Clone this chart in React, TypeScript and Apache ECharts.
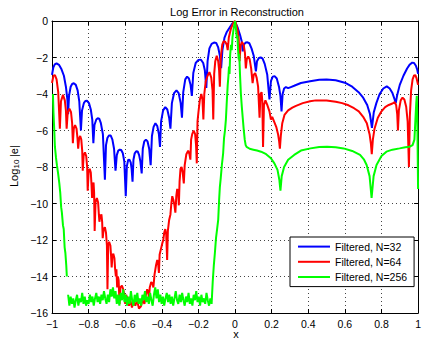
import React, { useEffect, useRef } from "react";
import * as echarts from "echarts";

const FONT = "'Liberation Sans', Arial, Helvetica, sans-serif";

const seriesNames = ["Filtered, N=32", "Filtered, N=64", "Filtered, N=256"];
const seriesColors = ["#0000ff", "#ff0000", "#00ff00"];
const xTicks = [-1, -0.8, -0.6, -0.4, -0.2, 0, 0.2, 0.4, 0.6, 0.8, 1];
const yTicks = [-16, -14, -12, -10, -8, -6, -4, -2, 0];

const blueN32: any[] = [
  [-1.0, -2.95], [-0.993, -2.55], [-0.985, -2.38], [-0.975, -2.32], [-0.962, -2.4], [-0.948, -2.65],
  [-0.935, -3.0], [-0.924, -3.6], [-0.916, -4.3], [-0.912, -5.1], [-0.907, -4.1], [-0.898, -3.6],
  [-0.89, -3.45], [-0.881, -3.41], [-0.87, -3.5], [-0.86, -3.8], [-0.851, -4.4], [-0.842, -6.0],
  [-0.836, -4.9], [-0.826, -4.5], [-0.818, -4.38], [-0.809, -4.37], [-0.798, -4.5], [-0.788, -4.85],
  [-0.78, -5.4], [-0.774, -6.7], [-0.768, -5.7], [-0.758, -5.4], [-0.75, -5.33], [-0.742, -5.35],
  [-0.733, -5.6], [-0.722, -6.2], [-0.711, -8.7], [-0.705, -6.8], [-0.697, -6.4], [-0.688, -6.27],
  [-0.679, -6.28], [-0.67, -6.5], [-0.661, -7.0], [-0.653, -8.2], [-0.646, -7.35], [-0.638, -7.1],
  [-0.63, -7.05], [-0.622, -7.07], [-0.613, -7.25], [-0.605, -7.7], [-0.597, -9.6], [-0.591, -7.95],
  [-0.584, -7.62], [-0.577, -7.6], [-0.57, -7.75], [-0.565, -8.1], [-0.56, -8.8], [-0.555, -7.6],
  [-0.548, -7.25], [-0.54, -7.14], [-0.532, -7.15], [-0.524, -7.35], [-0.517, -7.7], [-0.51, -8.35],
  [-0.504, -7.0], [-0.496, -6.6], [-0.487, -6.5], [-0.478, -6.6], [-0.469, -7.0], [-0.461, -7.9],
  [-0.454, -6.3], [-0.445, -5.8], [-0.435, -5.6], [-0.425, -5.75], [-0.416, -6.2], [-0.41, -6.9],
  [-0.404, -5.5], [-0.393, -4.9], [-0.381, -4.72], [-0.37, -4.85], [-0.36, -5.3], [-0.353, -5.9],
  [-0.345, -4.5], [-0.333, -3.95], [-0.32, -3.8], [-0.308, -3.95], [-0.297, -4.5], [-0.29, -5.3],
  [-0.283, -3.9], [-0.272, -3.2], [-0.262, -3.05], [-0.252, -3.15], [-0.243, -3.5], [-0.236, -4.1],
  [-0.228, -2.85], [-0.215, -2.3], [-0.2, -2.13], [-0.186, -2.12], [-0.174, -2.3], [-0.165, -2.7],
  [-0.157, -3.67], [-0.15, -2.2], [-0.14, -1.5], [-0.128, -1.25], [-0.115, -1.18], [-0.103, -1.2],
  [-0.092, -1.45], [-0.083, -1.9], [-0.076, -2.58], [-0.069, -1.6], [-0.058, -0.93], [-0.045, -0.6],
  [-0.031, -0.38], [-0.016, -0.15], [0.0, -0.03], [0.015, -0.38], [0.027, -0.75], [0.036, -1.1],
  [0.042, -1.66], [0.048, -1.3], [0.058, -1.18], [0.068, -1.17], [0.078, -1.22], [0.09, -1.5],
  [0.102, -1.9], [0.114, -2.76], [0.12, -2.2], [0.13, -2.03], [0.14, -2.0], [0.15, -2.05],
  [0.162, -2.35], [0.176, -2.95], [0.188, -4.3], [0.196, -3.3], [0.206, -3.05], [0.216, -3.02],
  [0.228, -3.15], [0.24, -3.6], [0.248, -4.1], [0.254, -4.95], [0.26, -4.0], [0.268, -3.7],
  [0.278, -3.62], [0.29, -3.68], [0.305, -3.62], [0.323, -3.55], [0.36, -3.4], [0.41, -3.3],
  [0.46, -3.22], [0.5, -3.2], [0.55, -3.25], [0.6, -3.38], [0.64, -3.6], [0.675, -3.9],
  [0.7, -4.2], [0.722, -4.6], [0.737, -5.1], [0.748, -5.85], [0.758, -5.0], [0.772, -4.5],
  [0.79, -4.0], [0.81, -3.7], [0.829, -3.58], [0.845, -3.7], [0.86, -3.95], [0.872, -4.3],
  [0.878, -4.5], [0.885, -4.1], [0.9, -3.5], [0.92, -3.0], [0.94, -2.6], [0.955, -2.38],
  [0.968, -2.28], [0.978, -2.3], [0.988, -2.45], [0.995, -2.65], [1.0, -2.9],
];

const redN64: any[] = [
  [-1.0, -3.4], [-0.992, -3.0], [-0.984, -2.96], [-0.975, -3.2], [-0.966, -3.9], [-0.957, -5.9],
  [-0.951, -4.4], [-0.94, -4.05], [-0.93, -4.35], [-0.924, -4.9], [-0.92, -5.9],
  [-0.914, -5.0], [-0.905, -4.8], [-0.896, -5.0], [-0.89, -5.6], [-0.886, -6.7],
  [-0.881, -5.9], [-0.874, -5.7], [-0.866, -5.9], [-0.861, -6.4], [-0.857, -7.0],
  [-0.852, -6.45], [-0.846, -6.3], [-0.84, -6.5], [-0.835, -7.1], [-0.832, -8.2],
  [-0.827, -7.35], [-0.82, -7.2], [-0.813, -7.4], [-0.808, -8.0], [-0.805, -9.3],
  [-0.8, -8.3], [-0.794, -8.1], [-0.788, -8.3], [-0.784, -9.0], [-0.781, -9.7],
  [-0.777, -9.0], [-0.773, -8.85], [-0.77, -9.4], [-0.767, -11.5],
  [-0.762, -9.9], [-0.755, -9.7], [-0.748, -9.95], [-0.744, -10.6], [-0.741, -11.0],
  [-0.737, -10.7], [-0.73, -10.6], [-0.726, -11.0], [-0.723, -11.9],
  [-0.718, -11.4], [-0.711, -11.3], [-0.705, -11.6], [-0.7, -12.3], [-0.697, -14.7],
  [-0.693, -12.3], [-0.688, -12.1], [-0.681, -12.3], [-0.677, -12.9], [-0.674, -13.5],
  [-0.67, -12.9], [-0.665, -12.75], [-0.659, -13.0], [-0.655, -13.6], [-0.651, -14.0],
  [-0.648, -13.6], [-0.644, -14.6], [-0.64, -14.0], [-0.636, -14.2], [-0.631, -15.5],
  [-0.626, -14.6], [-0.618, -14.5], [-0.611, -14.7], [-0.605, -15.0], [-0.6, -15.5],
  [-0.595, -15.0], [-0.588, -15.2], [-0.58, -15.6], [-0.572, -15.3], [-0.563, -15.7],
  [-0.555, -15.35], [-0.545, -15.6], [-0.535, -15.3], [-0.525, -15.75], [-0.515, -15.65],
  [-0.505, -15.3], [-0.495, -15.5], [-0.487, -15.0], [-0.48, -14.7], [-0.474, -14.9],
  [-0.47, -15.2], [-0.466, -14.6], [-0.458, -14.3], [-0.451, -14.4], [-0.446, -14.6],
  [-0.44, -13.9], [-0.432, -13.4], [-0.425, -13.1], [-0.42, -13.3], [-0.416, -13.8],
  [-0.412, -12.8], [-0.405, -12.5], [-0.398, -12.2], [-0.392, -12.0], [-0.387, -11.6],
  [-0.381, -11.4], [-0.376, -11.7], [-0.371, -13.1], [-0.367, -11.5], [-0.36, -10.9],
  [-0.353, -10.6], [-0.348, -10.0], [-0.343, -9.6], [-0.337, -9.8], [-0.331, -10.1],
  [-0.326, -10.5], [-0.321, -9.6], [-0.316, -9.2], [-0.311, -9.4], [-0.307, -10.1],
  [-0.303, -8.8], [-0.298, -8.1], [-0.292, -8.0], [-0.286, -8.3], [-0.28, -8.9],
  [-0.275, -7.9], [-0.266, -7.3], [-0.256, -7.1], [-0.249, -7.3], [-0.244, -7.6],
  [-0.24, -6.5], [-0.234, -6.2], [-0.226, -6.0], [-0.218, -6.2], [-0.213, -6.8],
  [-0.209, -7.8], [-0.205, -5.5], [-0.2, -5.0], [-0.192, -4.3], [-0.184, -4.0],
  [-0.178, -4.3], [-0.173, -5.4], [-0.168, -4.0], [-0.16, -3.3], [-0.15, -3.0],
  [-0.14, -2.8], [-0.13, -3.1], [-0.123, -3.8], [-0.119, -5.4], [-0.114, -2.9],
  [-0.108, -2.2], [-0.1, -1.9], [-0.092, -2.2], [-0.087, -2.7], [-0.083, -3.6],
  [-0.078, -2.0], [-0.07, -1.3], [-0.062, -1.1], [-0.053, -1.15], [-0.045, -1.3],
  [-0.04, -1.6], [-0.034, -0.9], [-0.022, -0.4], [-0.01, -0.12], [0.0, 0.0],
  [0.008, -0.25], [0.015, -0.56], [0.02, -0.95], [0.025, -2.2], [0.03, -1.35],
  [0.038, -1.15], [0.047, -1.3], [0.054, -1.75], [0.059, -2.6], [0.064, -2.1],
  [0.072, -1.95], [0.08, -2.1], [0.088, -2.6], [0.096, -3.4], [0.102, -2.95],
  [0.11, -2.85], [0.118, -3.1], [0.126, -3.6], [0.134, -5.3], [0.139, -4.0],
  [0.145, -3.9], [0.149, -4.4], [0.153, -6.9], [0.158, -4.6], [0.166, -4.35],
  [0.176, -4.6], [0.188, -4.95], [0.196, -5.4], [0.203, -5.25], [0.213, -5.5],
  [0.225, -5.8], [0.235, -6.2], [0.241, -6.6], [0.245, -7.0], [0.25, -6.3],
  [0.258, -5.6], [0.27, -5.15], [0.29, -4.9], [0.313, -4.75], [0.333, -4.65],
  [0.37, -4.5], [0.41, -4.4], [0.441, -4.35], [0.5, -4.35], [0.55, -4.42],
  [0.585, -4.5], [0.62, -4.62], [0.65, -4.78], [0.676, -4.95], [0.7, -5.25],
  [0.72, -5.6], [0.735, -6.2], [0.742, -6.7], [0.747, -7.3], [0.753, -6.5],
  [0.762, -5.9], [0.78, -5.3], [0.8, -4.95], [0.82, -4.72], [0.84, -4.6],
  [0.86, -4.52], [0.872, -4.45], [0.88, -4.6], [0.886, -5.1], [0.89, -6.0],
  [0.895, -4.9], [0.905, -4.35], [0.915, -4.2], [0.925, -4.3], [0.935, -4.7],
  [0.943, -5.5], [0.95, -8.0], [0.955, -5.2], [0.962, -3.8], [0.97, -3.2],
  [0.978, -2.98], [0.985, -2.97], [0.992, -3.15], [1.0, -3.5],
];

const greenN256: any[] = [
  [-0.995, -4.0], [-0.992, -5.0], [-0.988, -5.9], [-0.984, -6.9], [-0.978, -7.5], [-0.973, -7.9],
  [-0.966, -8.4], [-0.96, -8.9], [-0.955, -9.4], [-0.95, -10.2], [-0.946, -10.5], [-0.94, -11.2],
  [-0.936, -11.4], [-0.931, -12.4], [-0.927, -12.7], [-0.922, -13.4], [-0.919, -14.0],
  [-0.915, "-"],
  [-0.912, -15.0], [-0.905, -15.6], [-0.898, -15.1], [-0.891, -15.5], [-0.884, -15.2], [-0.877, -15.7],
  [-0.87, -15.3], [-0.863, -15.0], [-0.856, -15.6], [-0.849, -15.2], [-0.842, -15.4], [-0.835, -14.9],
  [-0.828, -15.5], [-0.821, -15.1], [-0.814, -15.6], [-0.807, -15.3], [-0.8, -15.5], [-0.793, -15.0],
  [-0.786, -15.4], [-0.779, -15.1], [-0.772, -15.6], [-0.765, -15.2], [-0.758, -14.9], [-0.751, -15.4],
  [-0.744, -15.1], [-0.737, -15.5], [-0.73, -15.0], [-0.723, -15.3], [-0.716, -14.8], [-0.709, -15.2],
  [-0.702, -15.5], [-0.695, -15.0], [-0.688, -15.4], [-0.681, -14.7], [-0.674, -15.1], [-0.667, -14.6],
  [-0.66, -15.2], [-0.653, -14.8], [-0.646, -15.5], [-0.639, -15.0], [-0.632, -15.6], [-0.625, -14.9],
  [-0.618, -15.3], [-0.611, -14.7], [-0.604, -15.4], [-0.597, -15.0], [-0.59, -15.6], [-0.583, -15.1],
  [-0.576, -15.5], [-0.569, -14.8], [-0.562, -15.3], [-0.555, -15.6], [-0.548, -15.0], [-0.541, -15.4],
  [-0.534, -14.9], [-0.527, -15.5], [-0.52, -15.2], [-0.513, -15.6], [-0.506, -15.0], [-0.499, -15.3],
  [-0.492, -14.8], [-0.485, -15.4], [-0.478, -15.1], [-0.471, -15.5], [-0.464, -14.9], [-0.457, -15.3],
  [-0.45, -15.6], [-0.443, -15.0], [-0.436, -14.6], [-0.429, -15.2], [-0.422, -14.7], [-0.415, -15.4],
  [-0.408, -15.0], [-0.401, -15.5], [-0.394, -15.1], [-0.387, -15.6], [-0.38, -15.2], [-0.373, -14.9],
  [-0.366, -15.4], [-0.359, -15.0], [-0.352, -15.5], [-0.345, -15.1], [-0.338, -15.6], [-0.331, -15.2],
  [-0.324, -14.8], [-0.317, -15.3], [-0.31, -15.5], [-0.303, -15.0], [-0.296, -15.4], [-0.289, -14.9],
  [-0.282, -15.3], [-0.275, -15.6], [-0.268, -15.1], [-0.261, -15.4], [-0.254, -14.9], [-0.247, -15.5],
  [-0.24, -15.2], [-0.233, -15.6], [-0.226, -15.0], [-0.219, -15.3], [-0.212, -14.8], [-0.205, -15.4],
  [-0.198, -15.1], [-0.191, -15.6], [-0.184, -15.0], [-0.177, -15.4], [-0.17, -15.2], [-0.163, -15.5],
  [-0.156, -14.9], [-0.149, -15.3], [-0.142, -15.6], [-0.135, -15.2], [-0.128, -15.5],
  [-0.122, -14.3], [-0.116, -13.4], [-0.11, -12.7], [-0.104, -11.9], [-0.098, -11.4], [-0.092, -10.9],
  [-0.087, -9.8], [-0.083, -9.1], [-0.078, -8.6], [-0.072, -7.9], [-0.065, -7.25], [-0.06, -6.4],
  [-0.055, -6.0], [-0.05, -5.4], [-0.046, -4.6], [-0.04, -3.5], [-0.036, -3.0], [-0.033, -2.5],
  [-0.03, -2.9], [-0.027, -1.9], [-0.022, -1.3], [-0.018, -1.6], [-0.014, -0.9], [-0.008, -0.45],
  [0.0, 0.0], [0.006, -0.5], [0.01, -0.95], [0.013, -0.8], [0.016, -1.5], [0.02, -2.1],
  [0.023, -1.8], [0.027, -2.9], [0.032, -4.0], [0.037, -4.7], [0.042, -5.3], [0.047, -5.9],
  [0.053, -6.5], [0.058, -6.8], [0.063, -6.9], [0.08, -7.0], [0.1, -7.05], [0.12, -7.1],
  [0.142, -7.16], [0.17, -7.3], [0.196, -7.52], [0.215, -7.8], [0.232, -8.16], [0.242, -8.7],
  [0.248, -9.3], [0.255, -8.5], [0.268, -8.0], [0.29, -7.6], [0.323, -7.34], [0.36, -7.1],
  [0.412, -6.98], [0.46, -6.9], [0.503, -6.89], [0.55, -6.92], [0.593, -6.98], [0.64, -7.12],
  [0.683, -7.34], [0.705, -7.6], [0.719, -7.89], [0.735, -8.5], [0.746, -9.7], [0.757, -8.5],
  [0.773, -7.89], [0.8, -7.4], [0.827, -7.16], [0.86, -7.05], [0.899, -6.98], [0.93, -6.92],
  [0.953, -6.89], [0.97, -6.8], [0.98, -6.5], [0.985, -5.5], [0.99, -4.5], [0.993, -4.1],
  [0.996, -5.5], [1.0, -9.2],
];

const seriesData = [blueN32, redN64, greenN256];

function fmt(v: number): string {
  const a = Number(Math.abs(v).toFixed(1));
  if (a === 0) return "0";
  return (v < 0 ? "\u2212" : "") + String(a);
}

export default function App() {
  const ref = useRef<HTMLDivElement>(null);
  useEffect(() => {
    if (!ref.current) return;
    const chart = echarts.init(ref.current, undefined, { renderer: "svg" });
    const axisLine = { show: true, onZero: false, lineStyle: { color: "#000", width: 1 } };
    const tick = { show: true, inside: true, length: 4, lineStyle: { color: "#000", width: 1 } };
    const grid = { show: true, lineStyle: { color: "#444", width: 1, type: [1, 3] as any } };
    const labelStyle = { color: "#000", fontSize: 10.5, fontFamily: FONT };
    const option: any = {
      animation: false,
      backgroundColor: "#fff",
      grid: { left: 52, top: 21, width: 370, height: 292, containLabel: false },
      xAxis: [
        {
          type: "value", min: xTicks[0], max: xTicks[xTicks.length - 1], interval: 0.2,
          position: "bottom", axisLine, axisTick: tick, splitLine: grid,
          axisLabel: { ...labelStyle, margin: 5, formatter: fmt, showMinLabel: true, showMaxLabel: true },
        },
        {
          type: "value", min: xTicks[0], max: xTicks[xTicks.length - 1], interval: 0.2,
          position: "top", axisLine, axisTick: tick, splitLine: { show: false }, axisLabel: { show: false },
        },
      ],
      yAxis: [
        {
          type: "value", min: yTicks[0], max: yTicks[yTicks.length - 1], interval: 2,
          position: "left", axisLine, axisTick: tick, splitLine: grid,
          axisLabel: { ...labelStyle, margin: 4, formatter: fmt, showMinLabel: true, showMaxLabel: true },
        },
        {
          type: "value", min: yTicks[0], max: yTicks[yTicks.length - 1], interval: 2,
          position: "right", axisLine, axisTick: tick, splitLine: { show: false }, axisLabel: { show: false },
        },
      ],
      legend: {
        orient: "vertical", left: 290, top: 237, itemWidth: 32, itemHeight: 14, itemGap: 4,
        padding: [4, 7, 4, 7], borderColor: "#000", borderWidth: 1, borderRadius: 0,
        backgroundColor: "#fff", data: seriesNames,
        itemStyle: { opacity: 0 },
        lineStyle: { width: 2 },
        textStyle: { color: "#000", fontSize: 10.5, fontFamily: FONT },
      },
      series: seriesNames.map((name, i) => ({
        name, type: "line", xAxisIndex: 0, yAxisIndex: 0, data: seriesData[i],
        showSymbol: false, symbol: "none", connectNulls: false,
        lineStyle: { color: seriesColors[i], width: 2 }, itemStyle: { color: seriesColors[i] },
        emphasis: { disabled: true }, z: 2 + i,
      })),
      graphic: [
        {
          type: "text", x: 237, y: 11.5,
          style: { text: "Log Error in Reconstruction", fill: "#000", fontSize: 11, fontFamily: FONT, align: "center", verticalAlign: "middle" },
        },
        {
          type: "text", x: 236, y: 334,
          style: { text: "x", fill: "#000", fontSize: 11, fontFamily: FONT, align: "center", verticalAlign: "middle" },
        },
        {
          type: "group", x: 13.5, y: 167, rotation: Math.PI / 2,
          children: [
            { type: "text", x: -20, y: 0, style: { text: "Log", fill: "#000", fontSize: 11, fontFamily: FONT, align: "left", verticalAlign: "middle" } },
            { type: "text", x: -1.5, y: 3, style: { text: "10", fill: "#000", fontSize: 8, fontFamily: FONT, align: "left", verticalAlign: "middle" } },
            { type: "text", x: 10, y: 0, style: { text: "|e|", fill: "#000", fontSize: 11, fontFamily: FONT, align: "left", verticalAlign: "middle" } },
          ],
        },
      ],
    };
    chart.setOption(option);
    return () => chart.dispose();
  }, []);
  return (
    <div
      ref={ref}
      style={{ position: "fixed", left: 0, top: 0, width: 424, height: 340, background: "#fff" }}
    />
  );
}
